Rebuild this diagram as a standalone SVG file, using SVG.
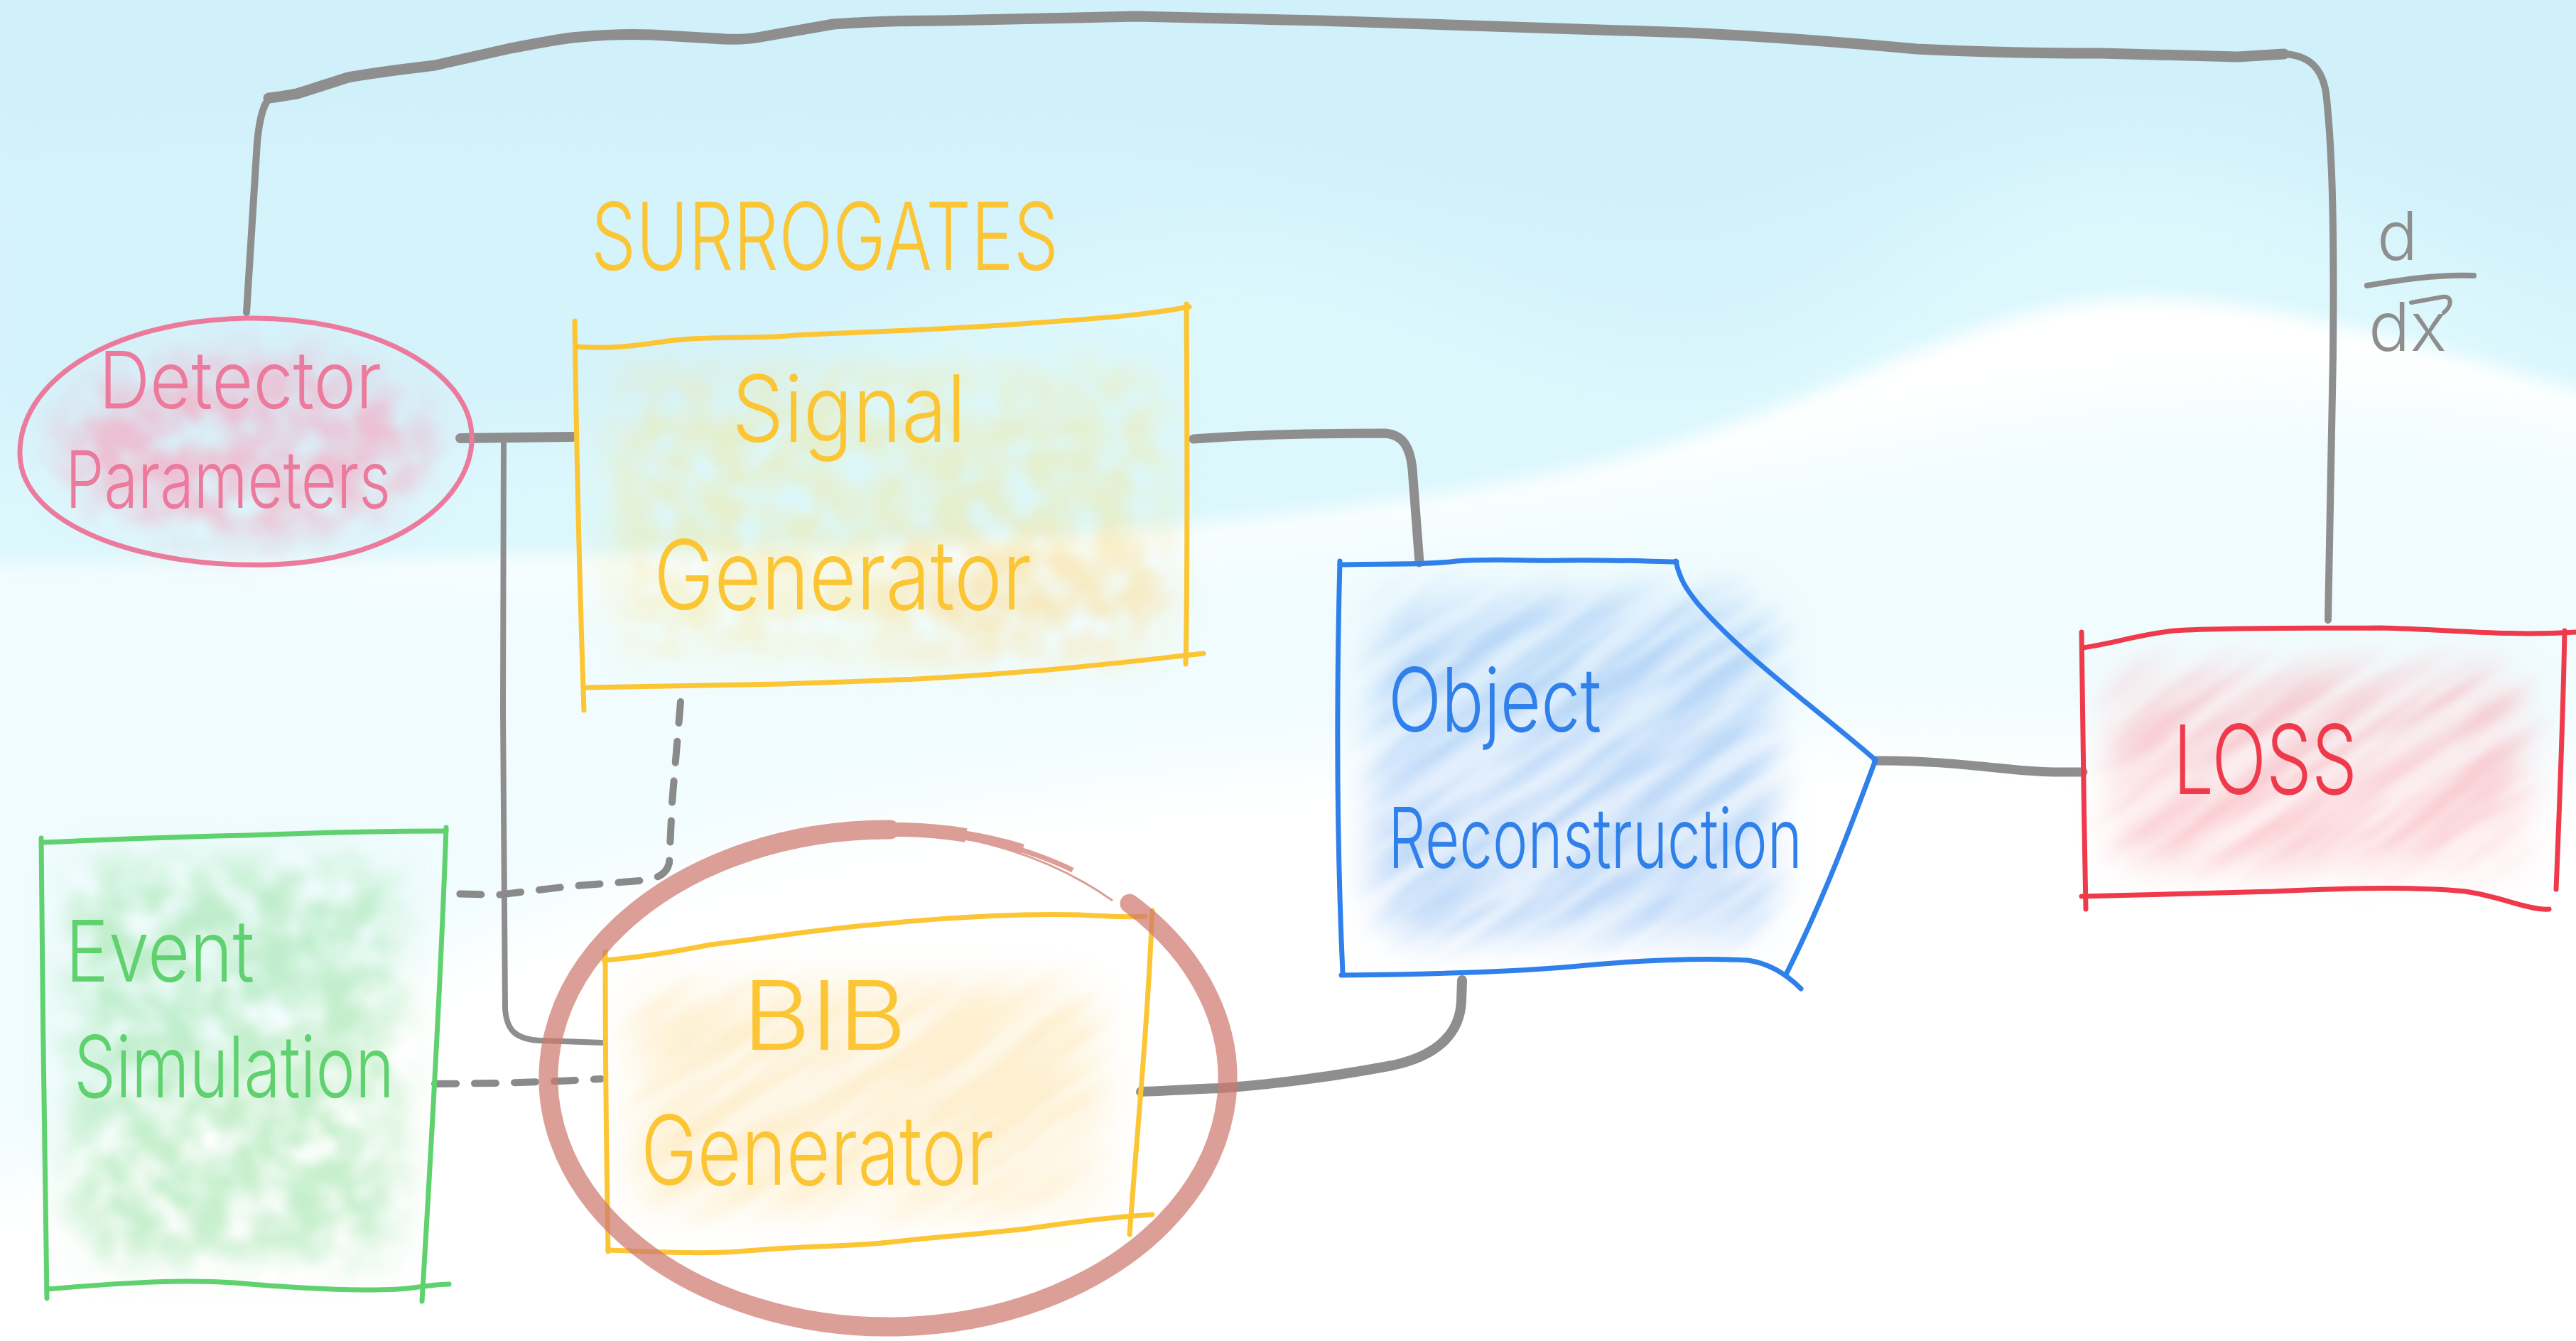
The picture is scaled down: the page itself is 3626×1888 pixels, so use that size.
<svg xmlns="http://www.w3.org/2000/svg" width="3626" height="1888" viewBox="0 0 3626 1888">
  <defs>
    <style>
      .hand { font-family: Inter, "Open Sans", "DejaVu Sans", sans-serif; font-weight: 300; }
      .edge { fill: none; stroke-linecap: round; stroke-linejoin: round; stroke-width: 7; }
      .wire { fill: none; stroke: #8e8e8e; stroke-linecap: round; stroke-linejoin: round; }
      .dash { fill: none; stroke: #8a8a8a; stroke-width: 10; stroke-dasharray: 30 26; stroke-linecap: round; }
      .ring { fill: none; stroke: #cf7a6f; stroke-linecap: round; }
      .taper { fill: none; stroke: #cf7a6f; stroke-linecap: butt; }
      .pink { stroke: #ec7a9c; } .pinkT { fill: #ec7a9c; }
      .yel { stroke: #fbc534; } .yelT { fill: #fbc534; }
      .blue { stroke: #2f80ea; } .blueT { fill: #2f80ea; }
      .red { stroke: #ef3a4c; } .redT { fill: #ef3a4c; }
      .green { stroke: #5fd16e; } .greenT { fill: #5fd16e; }
    </style>
    <!-- blotchy crayon-like fill -->
    <filter id="cloud" x="-30%" y="-30%" width="160%" height="160%" color-interpolation-filters="sRGB">
      <feTurbulence type="fractalNoise" baseFrequency="0.022" numOctaves="4" seed="7" result="noise"/>
      <feColorMatrix in="noise" type="matrix" values="0 0 0 0 0  0 0 0 0 0  0 0 0 0 0  2.2 0 0 0 -0.45" result="mask"/>
      <feGaussianBlur in="SourceGraphic" stdDeviation="30" result="soft"/>
      <feComposite in="soft" in2="mask" operator="in" result="tex"/>
      <feGaussianBlur in="tex" stdDeviation="6"/>
    </filter>
    <!-- streaky hatching (element is rotated so streaks run diagonally) -->
    <filter id="streak" x="-10%" y="-10%" width="120%" height="120%" color-interpolation-filters="sRGB">
      <feTurbulence type="fractalNoise" baseFrequency="0.004 0.035" numOctaves="3" seed="11" result="noise"/>
      <feColorMatrix in="noise" type="matrix" values="0 0 0 0 0  0 0 0 0 0  0 0 0 0 0  3.0 0 0 0 -1.0" result="mask"/>
      <feComposite in="SourceGraphic" in2="mask" operator="in" result="tex"/>
      <feGaussianBlur in="tex" stdDeviation="5"/>
    </filter>
    <filter id="soft" x="-20%" y="-20%" width="140%" height="140%">
      <feGaussianBlur stdDeviation="28"/>
    </filter>
    <filter id="haze" x="-10%" y="-10%" width="120%" height="120%">
      <feGaussianBlur stdDeviation="50"/>
    </filter>
    <filter id="edgeBlur" x="-5%" y="-5%" width="110%" height="120%">
      <feGaussianBlur stdDeviation="12"/>
    </filter>
    <mask id="mObj">
      <rect x="1935" y="840" width="560" height="480" rx="60" fill="#fff" filter="url(#soft)"/>
    </mask>
    <mask id="mLoss">
      <rect x="2975" y="945" width="580" height="275" rx="50" fill="#fff" filter="url(#soft)"/>
    </mask>
    <mask id="mBib">
      <rect x="890" y="1385" width="660" height="320" rx="50" fill="#fff" filter="url(#soft)"/>
    </mask>
  </defs>

  <!-- background: pale sky over white -->
  <g id="background">
    <rect width="3626" height="1888" fill="#ffffff"/>
    <path fill="#f0fcfe" filter="url(#haze)" d="M-60,700 C300,760 700,820 1100,800 C1600,780 2200,720 2700,620 C3100,540 3400,560 3686,620 V1100 C3000,1000 2000,1000 1200,1150 C700,1250 300,1500 -60,1700 Z"/>
    <path fill="#dcf8fd" filter="url(#edgeBlur)" d="M-40,-40 H3666 V560 C3450,500 3250,430 3040,420 C2800,410 2600,560 2300,640 C2000,720 1500,765 1000,778 C600,786 300,790 -40,792 Z"/>
    <path fill="#d5f3fb" filter="url(#haze)" d="M-60,-60 H3686 V500 C3480,400 3260,260 3020,240 C2760,220 2620,500 2380,500 C2140,500 1950,330 1700,340 C1400,350 1150,560 900,600 C600,640 300,640 -60,640 Z"/>
    <path fill="#d0f0fa" filter="url(#haze)" d="M-60,-60 H3686 V360 C3400,280 3200,150 2950,170 C2700,190 2500,350 2300,330 C2000,300 1700,180 1300,200 C900,220 500,160 -60,220 Z"/>
  </g>

  <!-- connectors -->
  <g id="connectors">
    <!-- gradient feedback loop from Loss back to Detector Parameters -->
    <path class="wire" stroke-width="10" d="M347,440 L362,200 C366,160 372,145 380,138"/>
    <path class="wire" stroke-width="15" d="M378,138 C395,136 405,134 418,132 L490,109 C540,100 580,96 612,92 L714,69 C760,60 790,54 816,52 C860,48 890,48 918,49 L1020,55 C1040,56 1055,55 1071,52 L1173,34 C1230,30 1280,29 1327,29 L1600,23 L1858,29 L2375,46 C2500,52 2600,60 2698,69 C2800,74 2880,75 2957,75 L3150,80 L3215,76"/>
    <path class="wire" stroke-width="10" d="M3215,76 C3250,78 3268,95 3274,130 C3282,200 3286,300 3284,500 L3277,873"/>
    <!-- Detector Parameters to Signal Generator -->
    <path class="wire" stroke-width="14" d="M648,617 L806,615"/>
    <!-- branch down to BIB Generator -->
    <path class="wire" stroke-width="8" d="M709,620 L708,1000 L711,1420 C713,1450 725,1463 760,1465 L848,1468"/>
    <!-- Signal Generator to Object Reconstruction -->
    <path class="wire" stroke-width="13" d="M1680,618 C1760,612 1860,610 1950,610 C1975,612 1985,630 1988,660 L1998,792"/>
    <!-- BIB Generator to Object Reconstruction -->
    <path class="wire" stroke-width="14" d="M1606,1537 C1640,1536 1660,1534 1720,1532 C1800,1526 1880,1515 1960,1500 C2030,1485 2055,1450 2057,1410 L2058,1380"/>
    <!-- Object Reconstruction to Loss -->
    <path class="wire" stroke-width="13" d="M2641,1071 C2700,1070 2760,1076 2820,1082 C2870,1088 2900,1087 2932,1087"/>
    <!-- dashed inputs from Event Simulation -->
    <path class="dash" d="M958,988 L946,1130 L942,1215 C938,1232 925,1237 900,1240 L800,1248 L700,1260 L631,1258"/>
    <path class="dash" d="M612,1526 L700,1525 L790,1522 L846,1519"/>
    <!-- derivative label on the feedback loop -->
    <g id="ddx">
      <text class="hand" x="3346" y="366" font-size="95" fill="#8e8e8e">d</text>
      <path class="wire" stroke-width="8" d="M3332,402 C3380,394 3430,386 3482,388"/>
      <text class="hand" x="3334" y="494" font-size="95" fill="#8e8e8e" textLength="110" lengthAdjust="spacingAndGlyphs">dx</text>
      <path class="wire" stroke-width="6" d="M3394,426 L3438,418 C3452,416 3452,430 3440,440"/>
    </g>
  </g>

  <!-- Detector Parameters -->
  <g id="detector-parameters">
    <ellipse cx="345" cy="630" rx="265" ry="130" fill="#f5a9c2" filter="url(#cloud)" opacity="0.7"/>
    <path class="edge pink" d="M346,448 C520,445 660,520 664,612 C668,700 560,790 380,795 C200,800 30,740 28,640 C26,540 150,452 346,448 Z"/>
    <text class="hand pinkT" x="139" y="575" font-size="112" textLength="398" lengthAdjust="spacingAndGlyphs">Detector</text>
    <text class="hand pinkT" x="92" y="715" font-size="112" textLength="458" lengthAdjust="spacingAndGlyphs">Parameters</text>
  </g>

  <!-- group heading -->
  <g id="surrogates-label">
    <text class="hand yelT" x="832" y="380" font-size="132" font-weight="400" textLength="658" lengthAdjust="spacingAndGlyphs">SURROGATES</text>
  </g>

  <!-- Signal Generator -->
  <g id="signal-generator">
    <rect x="860" y="520" width="780" height="400" rx="60" fill="#f7e07a" filter="url(#cloud)" opacity="0.35"/>
    <rect x="1250" y="760" width="380" height="160" rx="60" fill="#fdd9a0" filter="url(#cloud)" opacity="0.35"/>
    <path class="edge yel" d="M812,488 C860,492 900,486 940,480 C1000,472 1060,478 1120,472 C1250,466 1350,463 1450,455 C1550,448 1610,444 1674,432"/>
    <path class="edge yel" d="M809,452 C811,600 815,800 822,1000"/>
    <path class="edge yel" d="M1670,428 C1671,600 1672,800 1669,935"/>
    <path class="edge yel" d="M826,968 C900,966 1000,965 1100,963 C1250,958 1320,956 1450,945 C1550,937 1620,928 1694,920"/>
    <text class="hand yelT" x="1030" y="622" font-size="130" textLength="330" lengthAdjust="spacingAndGlyphs">Signal</text>
    <text class="hand yelT" x="920" y="858" font-size="135" textLength="532" lengthAdjust="spacingAndGlyphs">Generator</text>
  </g>

  <!-- Object Reconstruction -->
  <g id="object-reconstruction">
    <g mask="url(#mObj)" opacity="0.55">
      <g transform="rotate(-35 2210 1080)">
        <rect x="1700" y="600" width="1000" height="960" fill="#cfe3fb"/>
        <rect x="1700" y="600" width="1000" height="960" fill="#8fbdf3" filter="url(#streak)"/>
      </g>
    </g>
    <path class="edge blue" d="M1886,795 C1950,793 2000,796 2050,790 C2100,786 2150,790 2200,789 C2260,788 2310,790 2360,791"/>
    <path class="edge blue" d="M2359,790 C2364,815 2374,830 2390,850 C2460,930 2560,1000 2640,1070"/>
    <path class="edge blue" d="M2640,1070 C2610,1150 2570,1260 2515,1370"/>
    <path class="edge blue" d="M1888,1373 C1980,1372 2100,1370 2200,1362 C2300,1352 2400,1348 2460,1352 C2490,1356 2515,1372 2535,1392"/>
    <path class="edge blue" d="M1886,790 C1882,950 1880,1150 1890,1370"/>
    <text class="hand blueT" x="1954" y="1030" font-size="125" textLength="300" lengthAdjust="spacingAndGlyphs">Object</text>
    <text class="hand blueT" x="1954" y="1222" font-size="118" textLength="583" lengthAdjust="spacingAndGlyphs">Reconstruction</text>
  </g>

  <!-- Loss -->
  <g id="loss">
    <g mask="url(#mLoss)" opacity="0.55">
      <g transform="rotate(-35 3265 1085)">
        <rect x="2850" y="700" width="830" height="770" fill="#fde0e3"/>
        <rect x="2850" y="700" width="830" height="770" fill="#f8aab2" filter="url(#streak)"/>
      </g>
    </g>
    <path class="edge red" d="M2932,912 C2980,905 3010,893 3060,888 C3150,883 3250,885 3350,884 C3450,886 3520,896 3626,890"/>
    <path class="edge red" d="M2930,890 C2932,1000 2933,1150 2936,1280"/>
    <path class="edge red" d="M3610,888 C3608,1000 3603,1130 3598,1252"/>
    <path class="edge red" d="M2930,1262 C3000,1260 3100,1258 3200,1255 C3300,1250 3400,1248 3470,1255 C3520,1262 3560,1282 3588,1280"/>
    <text class="hand redT" x="3059" y="1118" font-size="135" textLength="259" lengthAdjust="spacingAndGlyphs">LOSS</text>
  </g>

  <!-- Event Simulation -->
  <g id="event-simulation">
    <rect x="100" y="1215" width="460" height="560" rx="60" fill="#9fe4aa" filter="url(#cloud)" opacity="0.6"/>
    <path class="edge green" d="M60,1186 C150,1182 250,1178 350,1176 C450,1172 550,1170 628,1170"/>
    <path class="edge green" d="M58,1180 C60,1400 62,1600 66,1828"/>
    <path class="edge green" d="M628,1165 C620,1400 605,1650 594,1832"/>
    <path class="edge green" d="M66,1815 C150,1808 250,1800 330,1806 C420,1814 500,1818 560,1815 C590,1813 610,1808 632,1808"/>
    <text class="hand greenT" x="92" y="1382" font-size="120" textLength="266" lengthAdjust="spacingAndGlyphs">Event</text>
    <text class="hand greenT" x="104" y="1545" font-size="120" textLength="451" lengthAdjust="spacingAndGlyphs">Simulation</text>
  </g>

  <!-- BIB Generator -->
  <g id="bib-generator">
    <g mask="url(#mBib)" opacity="0.5">
      <g transform="rotate(-35 1220 1545)">
        <rect x="760" y="1150" width="920" height="790" fill="#fef1d2"/>
        <rect x="760" y="1150" width="920" height="790" fill="#fde0a0" filter="url(#streak)"/>
      </g>
    </g>
    <path class="edge yel" d="M850,1352 C900,1348 950,1340 1000,1330 C1100,1318 1150,1308 1250,1300 C1350,1290 1450,1286 1520,1288 C1560,1290 1590,1292 1612,1290"/>
    <path class="edge yel" d="M852,1340 C852,1500 854,1650 856,1762"/>
    <path class="edge yel" d="M1622,1282 C1615,1450 1600,1600 1590,1738"/>
    <path class="edge yel" d="M856,1760 C920,1762 980,1766 1040,1762 C1150,1752 1200,1756 1260,1748 C1350,1738 1420,1735 1480,1725 C1550,1715 1590,1712 1622,1710"/>
    <text class="hand yelT" x="1045" y="1478" font-size="135" textLength="231" lengthAdjust="spacingAndGlyphs">BIB</text>
    <text class="hand yelT" x="902" y="1668" font-size="135" textLength="497" lengthAdjust="spacingAndGlyphs">Generator</text>
  </g>

  <!-- highlight ring around the BIB Generator: thick loop with a thinning overlap at the top right -->
  <g id="highlight-ring" opacity="0.72">
    <path class="ring" stroke-width="27" d="M1590,1272 A478,350 0 1 1 1253,1168"/>
    <path class="taper" stroke-width="20" d="M1250,1168 A479,351 0 0 1 1360,1176"/>
    <path class="taper" stroke-width="13" d="M1250,1168 A480,352 0 0 1 1440,1195"/>
    <path class="taper" stroke-width="7" d="M1250,1168 A482,354 0 0 1 1510,1225"/>
    <path class="taper" stroke-width="3" d="M1250,1168 A484,356 0 0 1 1566,1268"/>
  </g>
</svg>
